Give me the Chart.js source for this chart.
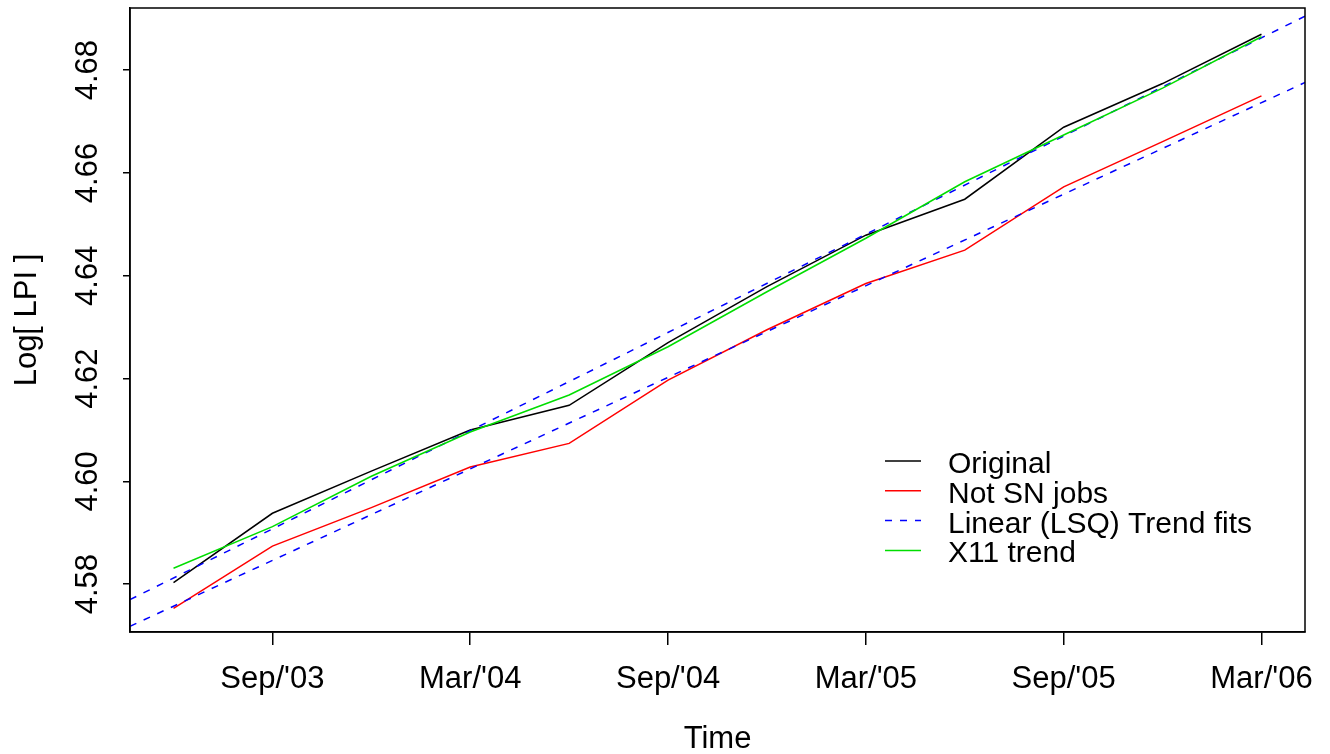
<!DOCTYPE html>
<html>
<head>
<meta charset="utf-8">
<title>Log[ LPI ] with linear and X11 trends</title>
<script src="https://cdn.jsdelivr.net/npm/chart.js@4.4.1/dist/chart.umd.min.js"></script>
<style>
  html, body { margin: 0; padding: 0; background: #fff; }
  #wrap { width: 1330px; height: 754px; }
</style>
</head>
<body>
<div id="wrap"><canvas id="lpi"></canvas></div>
<script>
// quarterly series, Jun 2003 to Mar 2006
const quarters = ["2003-06", "2003-09", "2003-12", "2004-03", "2004-06", "2004-09",
                  "2004-12", "2005-03", "2005-06", "2005-09", "2005-12", "2006-03"];
const original  = [4.5803, 4.5938, 4.6020, 4.6100, 4.6148, 4.6270,
                   4.6379, 4.6479, 4.6549, 4.6689, 4.6774, 4.6870];
const notSnJobs = [4.5753, 4.5874, 4.5949, 4.6028, 4.6074, 4.6197,
                   4.6295, 4.6385, 4.6450, 4.6573, 4.6661, 4.6750];
const x11Trend  = [4.5831, 4.5912, 4.6010, 4.6096, 4.6168, 4.6262,
                   4.6369, 4.6473, 4.6583, 4.6674, 4.6765, 4.6865];

// LSQ trend lines: value at the left and right edge of the plot
const lsqOriginal = [4.5770, 4.6905];
const lsqNotSn    = [4.5718, 4.6776];

// axis ticks
const xTickMonths = ["2003-09", "2004-03", "2004-09", "2005-03", "2005-09", "2006-03"];
const xTickLabels = ["Sep/'03", "Mar/'04", "Sep/'04", "Mar/'05", "Sep/'05", "Mar/'06"];
const yTicks = [4.58, 4.60, 4.62, 4.64, 4.66, 4.68];
const yTickLabels = ["4.58", "4.60", "4.62", "4.64", "4.66", "4.68"];

const FONT = "'Liberation Sans', Arial, Helvetica, sans-serif";

// "2003-06" -> 2003.4167 (R style ts time)
function toYear(s) {
  const [y, m] = s.split("-").map(Number);
  return y + (m - 1) / 12;
}

const times = quarters.map(toYear);
const span = times[times.length - 1] - times[0];
const xMin = times[0] - 0.04 * span;
const xMax = times[times.length - 1] + 0.04 * span;

const pts = (vals) => vals.map((v, i) => ({ x: times[i], y: v }));
const edge = (vals) => [{ x: xMin, y: vals[0] }, { x: xMax, y: vals[1] }];

const datasets = [
  { label: "Original", data: pts(original), borderColor: "#000000", order: 5, inLegend: true },
  { label: "Not SN jobs", data: pts(notSnJobs), borderColor: "#ff0000", order: 4, inLegend: true },
  { label: "Linear (LSQ) Trend fits", data: edge(lsqOriginal), borderColor: "#0000ff",
    borderDash: [7, 8], order: 3, inLegend: true },
  { label: "Linear (LSQ) Trend fits", data: edge(lsqNotSn), borderColor: "#0000ff",
    borderDash: [7, 8], order: 3 },
  { label: "X11 trend", data: pts(x11Trend), borderColor: "#00dd00", order: 1, inLegend: true },
];
datasets.forEach(d => {
  d.borderWidth = 1.5;
  d.pointRadius = 0;
  d.tension = 0;
  d.fill = false;
});

// box round the plot, rotated y labels, and the legend
const rStyle = {
  id: "rStyle",
  afterDraw(chart) {
    const { ctx, chartArea: a, scales } = chart;
    ctx.save();
    ctx.strokeStyle = "#000";
    ctx.lineWidth = 1.5;
    ctx.strokeRect(a.left, a.top, a.right - a.left, a.bottom - a.top);

    // y tick labels, reading upwards like R
    ctx.fillStyle = "#000";
    ctx.font = "31px " + FONT;
    ctx.textAlign = "center";
    ctx.textBaseline = "alphabetic";
    yTicks.forEach((v, i) => {
      const py = scales.y.getPixelForValue(v);
      ctx.save();
      ctx.translate(a.left - 33, py);
      ctx.rotate(-Math.PI / 2);
      ctx.fillText(yTickLabels[i], 0, 0);
      ctx.restore();
    });

    // legend
    const rows = chart.data.datasets.filter(d => d.inLegend);
    const lx = a.left + 755, tx = a.left + 818;
    let ly = a.top + 453;
    ctx.font = "30px " + FONT;
    ctx.textAlign = "left";
    rows.forEach(d => {
      ctx.strokeStyle = d.borderColor;
      ctx.lineWidth = 1.5;
      ctx.setLineDash(d.borderDash || []);
      ctx.beginPath();
      ctx.moveTo(lx, ly);
      ctx.lineTo(lx + 36, ly);
      ctx.stroke();
      ctx.setLineDash([]);
      ctx.fillStyle = "#000";
      ctx.fillText(d.label, tx, ly + 12);
      ly += 29.8;
    });
    ctx.restore();
  }
};

new Chart(document.getElementById("lpi"), {
  type: "line",
  data: { datasets },
  options: {
    responsive: true,
    maintainAspectRatio: false,
    animation: false,
    layout: { padding: { top: 8, right: 25, left: 0, bottom: 0 } },
    plugins: { legend: { display: false }, tooltip: { enabled: false } },
    scales: {
      x: {
        type: "linear",
        min: xMin,
        max: xMax,
        afterBuildTicks: (scale) => {
          scale.ticks = xTickMonths.map(m => ({ value: toYear(m) }));
        },
        afterFit: (scale) => { scale.height = 122; },
        ticks: {
          autoSkip: false,
          maxRotation: 0,
          minRotation: 0,
          padding: 16,
          color: "#000",
          font: { family: FONT, size: 31 },
          callback: (v, i) => xTickLabels[i],
        },
        grid: { drawOnChartArea: false, drawTicks: true, tickLength: 13, color: "#000", lineWidth: 1.5 },
        border: { display: true, color: "#000", width: 1.5 },
        title: { display: true, text: "Time", color: "#000", font: { family: FONT, size: 31 },
                 padding: { top: 0, bottom: -4 } },
      },
      y: {
        type: "linear",
        min: 4.5707,
        max: 4.6921,
        afterBuildTicks: (scale) => {
          scale.ticks = yTicks.map(v => ({ value: v }));
        },
        afterFit: (scale) => { scale.width = 130; },
        // labels are drawn rotated by rStyle; keep these tiny so no extra top padding is reserved
        ticks: { color: "rgba(0,0,0,0)", padding: 0, font: { family: FONT, size: 1 } },
        grid: { drawOnChartArea: false, drawTicks: true, tickLength: 7, color: "#000", lineWidth: 1.5 },
        border: { display: true, color: "#000", width: 1.5 },
        title: { display: true, text: "Log[ LPI ]", color: "#000", font: { family: FONT, size: 31 },
                 padding: { top: 9, bottom: 0 } },
      },
    },
  },
  plugins: [rStyle],
});
</script>
</body>
</html>
